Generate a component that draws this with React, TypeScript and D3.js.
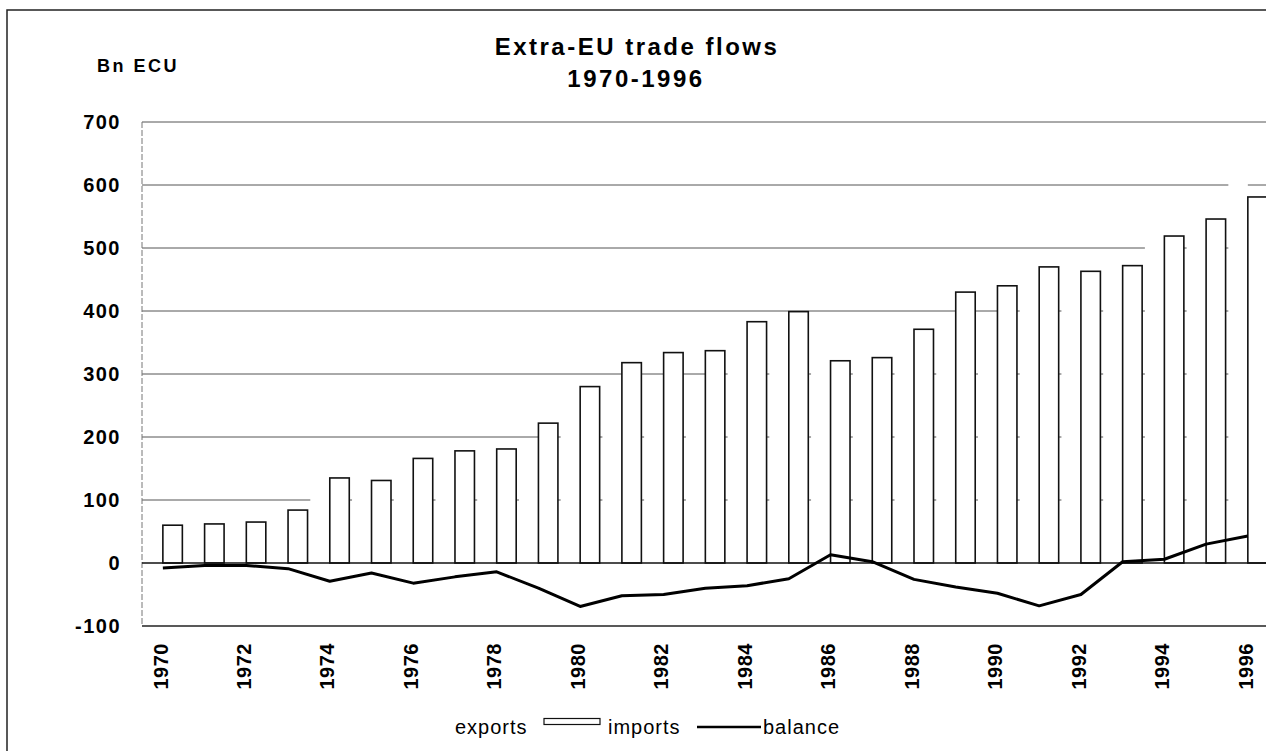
import React from 'react';
import * as d3 from 'd3';

// Extra-EU trade flows, Bn ECU
const years = [1970, 1971, 1972, 1973, 1974, 1975, 1976, 1977, 1978, 1979, 1980, 1981, 1982, 1983,
  1984, 1985, 1986, 1987, 1988, 1989, 1990, 1991, 1992, 1993, 1994, 1995, 1996];
const imports = [60, 62, 65, 84, 135, 131, 166, 178, 181, 222, 280, 318, 334, 337,
  383, 399, 321, 326, 371, 430, 440, 470, 463, 472, 519, 546, 581];
// exports are drawn white with no outline (only visible where they hide gridlines)
const exportsVals = [52, 58, 61, 75, 106, 115, 134, 156, 167, 182, 211, 266, 284, 297,
  347, 374, 334, 328, 345, 392, 392, 402, 413, 474, 525, 576, 624];
const balance = [-8, -4, -4, -9, -29, -16, -32, -22, -14, -40, -69, -52, -50, -40,
  -36, -25, 13, 2, -26, -38, -48, -68, -50, 2, 6, 30, 43];
const yTicks = [-100, 0, 100, 200, 300, 400, 500, 600, 700];
const xLabels = [1970, 1972, 1974, 1976, 1978, 1980, 1982, 1984, 1986, 1988, 1990, 1992, 1994, 1996];

const font = "'Liberation Sans', Arial, Helvetica, sans-serif";

const App = () => {
  const width = 1266;
  const height = 751;

  // plot area
  const left = 142;
  const right = 1268.7;
  const top = 122;
  const bottom = 626;

  const x = d3.scaleBand<number>().domain(years).range([left, right]).padding(0);
  const y = d3.scaleLinear().domain([-100, 700]).range([bottom, top]);
  const bw = x.bandwidth() * 0.467;
  const cx = (yr: number) => (x(yr) as number) + x.bandwidth() / 2;

  const line = d3.line<number>()
    .x((d, i) => cx(years[i]))
    .y(d => y(d));

  return (
    <svg width={width} height={height}
      style={{ position: 'absolute', left: 0, top: 0, background: '#fff', fontFamily: font }}>
      {/* outer frame */}
      <rect x={7} y={10} width={1400} height={900} fill="none" stroke="#222" strokeWidth={1.5} />

      {/* title */}
      <text x={637} y={55} textAnchor="middle" fontSize={24} fontWeight="bold" letterSpacing={2.5}>
        Extra-EU trade flows
      </text>
      <text x={636} y={87} textAnchor="middle" fontSize={24} fontWeight="bold" letterSpacing={2.5}>
        1970-1996
      </text>
      <text x={97} y={72} fontSize={18} fontWeight="bold" letterSpacing={2.5}>Bn ECU</text>

      {/* gridlines */}
      {yTicks.filter(t => t > 0).map(t => (
        <line key={t} x1={left} x2={right} y1={y(t)} y2={y(t)} stroke="#555" strokeWidth={1} />
      ))}

      {/* y axis */}
      <line x1={left} x2={left} y1={top} y2={bottom} stroke="#777" strokeWidth={1} strokeDasharray="6,2" />

      {/* exports: white, unoutlined */}
      {years.map((yr, i) => (
        <rect key={'e' + yr} x={cx(yr) - bw} width={bw}
          y={y(exportsVals[i])} height={y(0) - y(exportsVals[i])} fill="#fff" stroke="none" />
      ))}

      {/* imports */}
      {years.map((yr, i) => (
        <rect key={'i' + yr} x={cx(yr)} width={bw}
          y={y(imports[i])} height={y(0) - y(imports[i])} fill="#fff" stroke="#111" strokeWidth={1.6} />
      ))}

      {/* zero line and bottom axis */}
      <line x1={left} x2={right} y1={y(0)} y2={y(0)} stroke="#111" strokeWidth={1.5} />
      <line x1={left} x2={right} y1={y(-100)} y2={y(-100)} stroke="#222" strokeWidth={1.5} />

      {/* balance */}
      <path d={line(balance) || ''} fill="none" stroke="#000" strokeWidth={3} strokeLinejoin="round" />

      {/* y tick labels */}
      {yTicks.map(t => (
        <text key={t} x={121} y={y(t)} dy="0.36em" textAnchor="end" fontSize={20}
          fontWeight="bold" letterSpacing={1.5}>{t}</text>
      ))}

      {/* x tick labels */}
      {xLabels.map(yr => (
        <text key={yr} transform={`translate(${cx(yr) - 2.5},643) rotate(-90)`} dy="0.36em"
          textAnchor="end" fontSize={20} fontWeight="bold" letterSpacing={0.5}>{yr}</text>
      ))}

      {/* legend */}
      <g fontSize={20} letterSpacing={1}>
        <text x={455} y={734}>exports</text>
        <rect x={544} y={718.5} width={56} height={6} fill="#fff" stroke="#111" strokeWidth={1.2} />
        <text x={608} y={734}>imports</text>
        <line x1={697} x2={761} y1={727} y2={727} stroke="#000" strokeWidth={2.5} />
        <text x={763} y={734}>balance</text>
      </g>
    </svg>
  );
};

export default App;
